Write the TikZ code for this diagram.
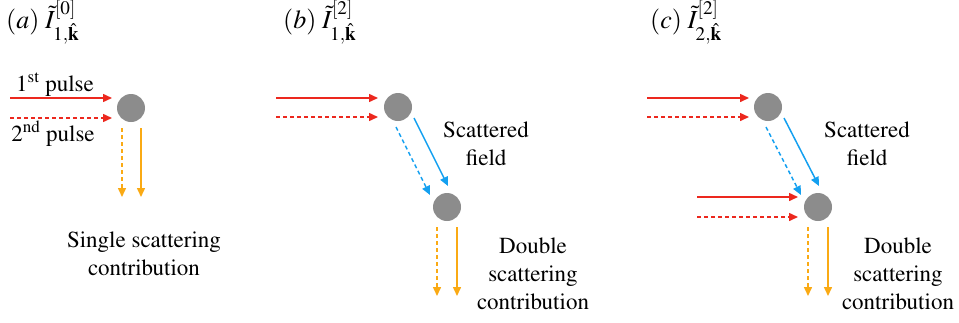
\documentclass[tikz,border=0pt]{standalone}
\usepackage[T1]{fontenc}
\usepackage{mathptmx}
\usetikzlibrary{arrows.meta}
\definecolor{pred}{RGB}{236,40,30}
\definecolor{porange}{RGB}{250,170,20}
\definecolor{pblue}{RGB}{20,160,240}
\definecolor{pgray}{RGB}{140,140,140}
\newcommand{\ttlmath}[3]{$(\mathit{#1})\;\tilde{I}^{[#2]}_{\raisebox{-7pt}{$\scriptstyle #3,\hat{\mathbf{k}}$}}$}
\begin{document}
\begin{tikzpicture}[x=1pt,y=-1pt,
  beam/.style={line width=1.5pt,-{Triangle[length=9pt,width=8pt]}},
  dsh/.style={dash pattern=on 4pt off 3pt},
  inred/.style={beam,pred},
  outor/.style={beam,porange},
  scblue/.style={beam,pblue},
  atom/.style={circle,fill=pgray,minimum size=28pt,inner sep=0pt},
  lbl/.style={font=\fontsize{23}{28}\selectfont,align=center,anchor=base,inner sep=0pt},
  ttl/.style={font=\fontsize{26}{30}\selectfont,anchor=base west,inner sep=0pt}]
\useasboundingbox (0,0) rectangle (959,322);
% ---------- (a)
\node[ttl] (ta) at (6,28) {\ttlmath{a}{0}{1}};
\node[atom] (a1) at (131,108) {};
\coordinate (a-s1) at (10,98);  \coordinate (a-e1) at (112,98);
\coordinate (a-s2) at (10,118); \coordinate (a-e2) at (112,118);
\draw[inred] (a-s1) -- (a-e1);
\draw[inred,dsh] (a-s2) -- (a-e2);
\node[lbl] (p1) at (55,91) {1\textsuperscript{st} pulse};
\node[lbl] (p2) at (53,141) {2\textsuperscript{nd} pulse};
\coordinate (a-o1) at (122,128); \coordinate (a-f1) at (122,197);
\coordinate (a-o2) at (141,128); \coordinate (a-f2) at (141,197);
\draw[outor,dsh] (a-o1) -- (a-f1);
\draw[outor] (a-o2) -- (a-f2);
\node[lbl] (la) at (144,275) {Single scattering\\contribution};
% ---------- (b)
\node[ttl] (tb) at (283,28) {\ttlmath{b}{2}{1}};
\node[atom] (b1) at (398,107) {};
\node[atom] (b2) at (447,207) {};
\coordinate (b-s1) at (276,98);  \coordinate (b-e1) at (378,98);
\coordinate (b-s2) at (276,117); \coordinate (b-e2) at (378,117);
\draw[inred] (b-s1) -- (b-e1);
\draw[inred,dsh] (b-s2) -- (b-e2);
\coordinate (b-bs) at (414,118); \coordinate (b-be) at (448,186);
\coordinate (b-ds) at (396,127); \coordinate (b-de) at (430,195);
\draw[scblue] (b-bs) -- (b-be);
\draw[scblue,dsh] (b-ds) -- (b-de);
\node[lbl] (sb) at (486,165) {Scattered\\field};
\coordinate (b-o1) at (437,227); \coordinate (b-f1) at (437,296);
\coordinate (b-o2) at (457,227); \coordinate (b-f2) at (457,296);
\draw[outor,dsh] (b-o1) -- (b-f1);
\draw[outor] (b-o2) -- (b-f2);
\node[lbl] (lb) at (533,309) {Double\\scattering\\contribution};
% ---------- (c)
\node[ttl] (tc) at (650,28) {\ttlmath{c}{2}{2}};
\node[atom] (c1) at (768,107) {};
\node[atom] (c2) at (818,207) {};
\coordinate (c-s1) at (647,98);  \coordinate (c-e1) at (749,98);
\coordinate (c-s2) at (647,117); \coordinate (c-e2) at (749,117);
\draw[inred] (c-s1) -- (c-e1);
\draw[inred,dsh] (c-s2) -- (c-e2);
\coordinate (c-bs) at (784,118); \coordinate (c-be) at (819,186);
\coordinate (c-ds) at (766,127); \coordinate (c-de) at (801,195);
\draw[scblue] (c-bs) -- (c-be);
\draw[scblue,dsh] (c-ds) -- (c-de);
\coordinate (c-t1) at (697,197); \coordinate (c-u1) at (798,197);
\coordinate (c-t2) at (697,217); \coordinate (c-u2) at (798,217);
\draw[inred] (c-t1) -- (c-u1);
\draw[inred,dsh] (c-t2) -- (c-u2);
\node[lbl] (sc) at (867,165) {Scattered\\field};
\coordinate (c-o1) at (808,227); \coordinate (c-f1) at (808,296);
\coordinate (c-o2) at (828,227); \coordinate (c-f2) at (828,296);
\draw[outor,dsh] (c-o1) -- (c-f1);
\draw[outor] (c-o2) -- (c-f2);
\node[lbl] (lc) at (898,309) {Double\\scattering\\contribution};
\end{tikzpicture}
\end{document}
